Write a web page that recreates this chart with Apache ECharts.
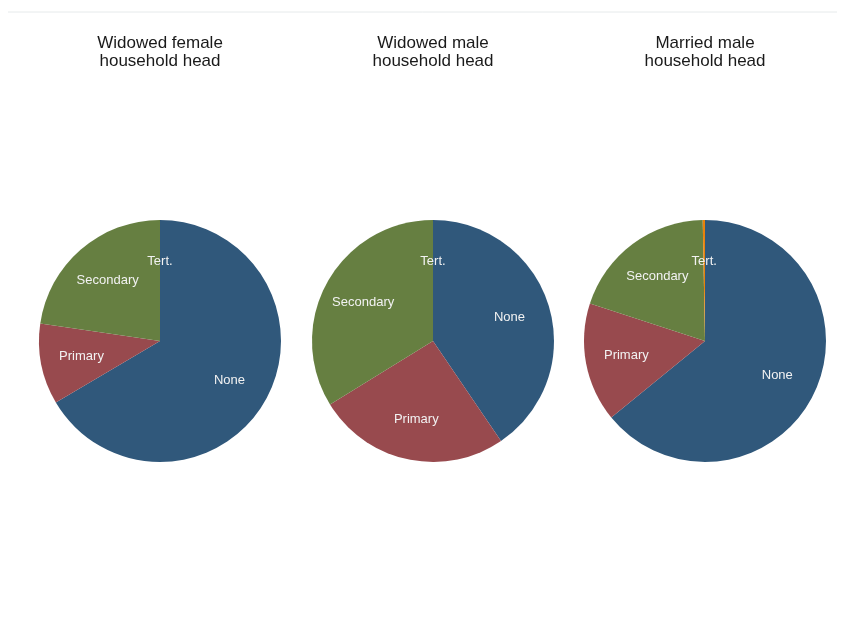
<!DOCTYPE html>
<html>
<head>
<meta charset="utf-8">
<script src="https://cdn.jsdelivr.net/npm/echarts@6/dist/echarts.min.js"></script>
<style>html,body{margin:0;padding:0;background:#fff;}#c{width:845px;height:623px;}</style>
</head>
<body>
<div id="c"></div>
<script>
const categories = ['None', 'Primary', 'Secondary', 'Tert.'];
const colors = ['#30587B', '#984A4E', '#667F41', '#E8820C'];
const panelTitles = ['Widowed female\nhousehold head', 'Widowed male\nhousehold head', 'Married male\nhousehold head'];
const widowedFemale = [66.5, 10.8, 22.7, 0];
const widowedMale = [40.5, 25.7, 33.8, 0];
const marriedMale = [64.1, 15.9, 19.7, 0.3];
const panels = [widowedFemale, widowedMale, marriedMale];
const centersX = [160, 433, 705];

const chart = echarts.init(document.getElementById('c'));
const series = [];
panels.forEach((vals, i) => {
  const data = categories.map((c, k) => ({ name: c, value: vals[k], itemStyle: { color: colors[k] } }));
  series.push({
    type: 'pie', center: [centersX[i], 341], radius: [0, 121], startAngle: 90, clockwise: true,
    avoidLabelOverlap: false, silent: true, animation: false,
    label: { show: false }, labelLine: { show: false },
    itemStyle: { borderWidth: 0 },
    data: data
  });
  series.push({
    type: 'pie', center: [centersX[i], 341], radius: [0, 154], startAngle: 90, clockwise: true,
    avoidLabelOverlap: false, silent: true, animation: false, minAngle: 0,
    label: { show: true, position: 'inside', color: '#f2f2f2', fontSize: 13, fontFamily: 'Liberation Sans, Arial, sans-serif', formatter: '{b}' },
    labelLine: { show: false },
    itemStyle: { color: 'rgba(0,0,0,0)', borderWidth: 0 },
    data: categories.map((c, k) => ({ name: c, value: vals[k] }))
  });
});

chart.setOption({
  backgroundColor: '#ffffff',
  animation: false,
  title: panelTitles.map((t, i) => ({
    text: t, left: centersX[i], top: 34, textAlign: 'center', padding: 0,
    textStyle: { fontFamily: 'Liberation Sans, Arial, sans-serif', fontSize: 17, fontWeight: 'normal', color: '#1a1a1a', lineHeight: 18 }
  })),
  graphic: [{ type: 'line', shape: { x1: 8, y1: 12, x2: 837, y2: 12 }, style: { stroke: '#e6eaeb', lineWidth: 1 } }],
  series: series
});
</script>
</body>
</html>
